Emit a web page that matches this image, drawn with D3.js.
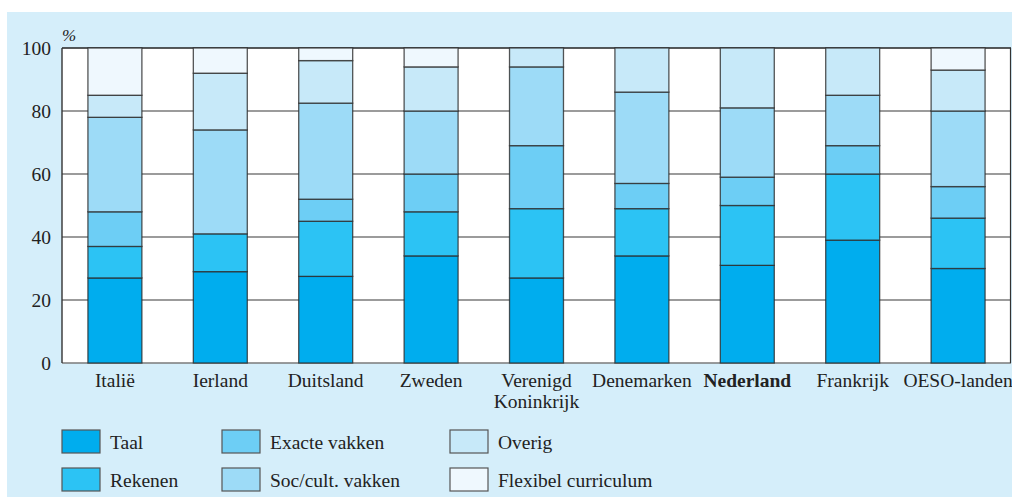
<!DOCTYPE html>
<html>
<head>
<meta charset="utf-8">
<script src="https://cdn.jsdelivr.net/npm/d3@7"></script>
<style>
  body { margin: 0; background: #fff; }
  svg { display: block; font-family: "Liberation Serif", "DejaVu Serif", serif; }
</style>
</head>
<body>
<div id="chart"></div>
<script>
const countries = ["Italië", "Ierland", "Duitsland", "Zweden", "Verenigd|Koninkrijk", "Denemarken", "Nederland", "Frankrijk", "OESO-landen"]
const series = ["Taal", "Rekenen", "Exacte vakken", "Soc/cult. vakken", "Overig", "Flexibel curriculum"]
const taal      = [27, 29, 27.5, 34, 27, 34, 31, 39, 30]
const rekenen   = [10, 12, 17.5, 14, 22, 15, 19, 21, 16]
const exacte    = [11, 0, 7, 12, 20, 8, 9, 9, 10]
const soccult   = [30, 33, 30.5, 20, 25, 29, 22, 16, 24]
const overig    = [7, 18, 13.5, 14, 6, 14, 19, 15, 13]
const flexibel  = [15, 8, 4, 6, 0, 0, 0, 0, 7]
const yTicks = [0, 20, 40, 60, 80, 100]
const colors = ["#00adee", "#2cc3f4", "#6dcef5", "#9ddbf7", "#c7e9f9", "#eff8fe"]

const width = 1012
const height = 497
const margin = {left: 62, top: 48, right: 1, bottom: 134}
const fontSize = 19.5

const svg = d3.select("#chart")
  .append("svg")
  .attr("width", width)
  .attr("height", height)

// light blue panel behind everything
svg.append("rect")
  .attr("x", 7).attr("y", 12)
  .attr("width", width - 7).attr("height", height - 12)
  .attr("fill", "#d5eefa")

const x = d3.scaleBand()
  .domain(countries)
  .range([margin.left, width - margin.right])
  .paddingInner(0.488)
  .paddingOuter(0.246)

const y = d3.scaleLinear()
  .domain([0, 100])
  .range([height - margin.bottom, margin.top])

svg.append("rect")
  .attr("x", margin.left).attr("y", y(100))
  .attr("width", width - margin.right - margin.left)
  .attr("height", y(0) - y(100))
  .attr("fill", "#fff")

// gridlines
svg.append("g")
  .selectAll("line")
  .data(yTicks)
  .join("line")
  .attr("x1", margin.left).attr("x2", width - margin.right)
  .attr("y1", d => y(d)).attr("y2", d => y(d))
  .attr("stroke", d => d == 100 ? "#222" : "#7a7a7a")
  .attr("stroke-width", 1.4)

svg.append("line")
  .attr("x1", margin.left).attr("x2", margin.left)
  .attr("y1", y(0)).attr("y2", y(100))
  .attr("stroke", "#333").attr("stroke-width", 1.4)
svg.append("line")
  .attr("x1", width - margin.right - 0.5).attr("x2", width - margin.right - 0.5)
  .attr("y1", y(0)).attr("y2", y(100))
  .attr("stroke", "#333").attr("stroke-width", 1.2)

// stacked bars
const table = countries.map((c, i) => ({
  country: c,
  "Taal": taal[i],
  "Rekenen": rekenen[i],
  "Exacte vakken": exacte[i],
  "Soc/cult. vakken": soccult[i],
  "Overig": overig[i],
  "Flexibel curriculum": flexibel[i]
}))
const stacked = d3.stack().keys(series)(table)
const color = d3.scaleOrdinal(series, colors)

svg.append("g")
  .selectAll("g")
  .data(stacked)
  .join("g")
  .attr("fill", d => color(d.key))
  .selectAll("rect")
  .data(d => d.filter(p => p[1] - p[0] > 0))
  .join("rect")
  .attr("x", d => x(d.data.country))
  .attr("y", d => y(d[1]))
  .attr("width", x.bandwidth())
  .attr("height", d => y(d[0]) - y(d[1]))
  .attr("stroke", "#2a2a2a")
  .attr("stroke-opacity", 0.8)
  .attr("stroke-width", 1.3)

// y axis labels
svg.append("g")
  .selectAll("text")
  .data(yTicks)
  .join("text")
  .attr("x", 51)
  .attr("y", d => y(d) + 7)
  .attr("text-anchor", "end")
  .attr("font-size", fontSize)
  .attr("fill", "#222")
  .text(d => d)

svg.append("text")
  .attr("x", 62).attr("y", 41)
  .attr("font-size", 17)
  .attr("font-style", "italic")
  .attr("fill", "#222")
  .text("%")

// x labels
const xl = svg.append("g")
  .selectAll("text")
  .data(countries)
  .join("text")
  .attr("x", d => x(d) + x.bandwidth() / 2)
  .attr("y", 387)
  .attr("text-anchor", "middle")
  .attr("font-size", fontSize)
  .attr("fill", "#222")
  .attr("font-weight", d => d == "Nederland" ? "bold" : "normal")
xl.selectAll("tspan")
  .data(d => d.split("|").map(t => ({t, cx: x(d) + x.bandwidth() / 2})))
  .join("tspan")
  .attr("x", d => d.cx)
  .attr("dy", (d, i) => i ? 21 : 0)
  .text(d => d.t)

// legend, 3 columns x 2 rows
const legendCols = [62, 222, 450]
const legendRows = [430, 468]
const leg = svg.append("g")
  .selectAll("g")
  .data(series)
  .join("g")
  .attr("transform", (d, i) => `translate(${legendCols[Math.floor(i / 2)]},${legendRows[i % 2]})`)
leg.append("rect")
  .attr("width", 38).attr("height", 23)
  .attr("fill", d => color(d))
  .attr("stroke", "#555").attr("stroke-width", 1.2)
leg.append("text")
  .attr("x", 48).attr("y", 19)
  .attr("font-size", fontSize)
  .attr("fill", "#222")
  .text(d => d)
</script>
</body>
</html>
